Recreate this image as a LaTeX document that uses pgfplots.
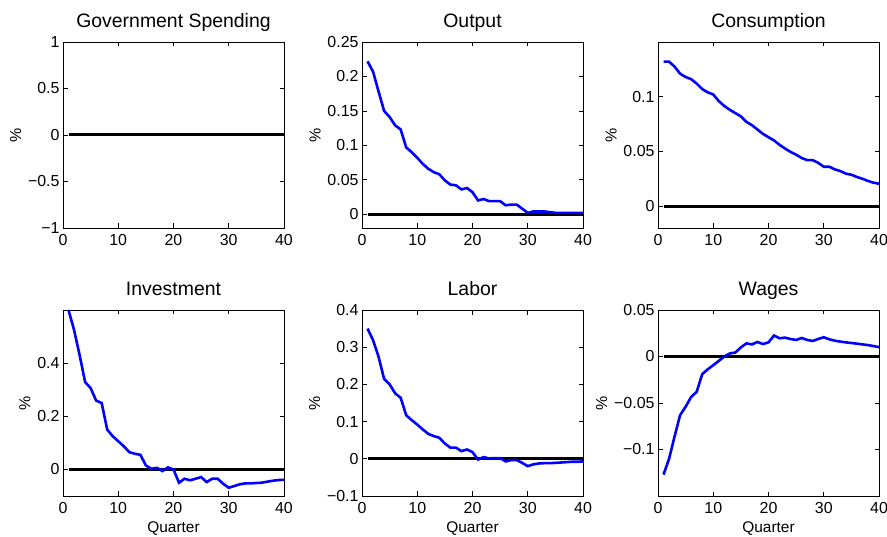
\documentclass[border=0pt]{standalone}
\usepackage{pgfplots}
\usepackage{pgfplotstable}
\pgfplotsset{compat=1.18}
\usepackage{fontspec}
\setmainfont{Liberation Sans}

\pgfplotstableread{
q gov out con inv lab wag
1 0 0.222 0.132 0.600 0.350 -0.127
2 0 0.207 0.132 0.525 0.319 -0.110
3 0 0.178 0.1275 0.431 0.274 -0.086
4 0 0.150 0.121 0.329 0.215 -0.063
5 0 0.141 0.118 0.306 0.200 -0.054
6 0 0.129 0.116 0.259 0.176 -0.0435
7 0 0.123 0.112 0.250 0.164 -0.038
8 0 0.097 0.107 0.150 0.117 -0.019
9 0 0.090 0.104 0.125 0.104 -0.0138
10 0 0.082 0.102 0.106 0.092 -0.0094
11 0 0.073 0.096 0.0875 0.079 -0.0047
12 0 0.066 0.0915 0.065 0.067 0.0
13 0 0.061 0.088 0.059 0.061 0.0033
14 0 0.058 0.085 0.055 0.0565 0.0043
15 0 0.049 0.082 0.015 0.041 0.0098
16 0 0.043 0.077 0.0025 0.030 0.0141
17 0 0.042 0.074 0.006 0.030 0.013
18 0 0.036 0.070 -0.006 0.0206 0.0156
19 0 0.038 0.066 0.0075 0.025 0.0134
20 0 0.032 0.063 0.0 0.018 0.0152
21 0 0.020 0.060 -0.050 -0.002 0.0225
22 0 0.022 0.056 -0.035 0.0045 0.0196
23 0 0.019 0.0526 -0.041 0.001 0.0203
24 0 0.019 0.0495 -0.035 0.002 0.0188
25 0 0.019 0.047 -0.029 0.002 0.0178
26 0 0.013 0.044 -0.0475 -0.007 0.0199
27 0 0.014 0.042 -0.035 -0.0036 0.0178
28 0 0.014 0.042 -0.035 -0.0036 0.0167
29 0 0.008 0.0395 -0.054 -0.011 0.0188
30 0 0.002 0.036 -0.069 -0.0197 0.0207
31 0 0.004 0.036 -0.0625 -0.015 0.0185
32 0 0.004 0.0336 -0.056 -0.0126 0.017
33 0 0.004 0.032 -0.0525 -0.0117 0.016
34 0 0.003 0.0297 -0.0525 -0.0117 0.0152
35 0 0.002 0.0287 -0.051 -0.011 0.0145
36 0 0.002 0.0266 -0.050 -0.010 0.0138
37 0 0.002 0.025 -0.046 -0.009 0.013
38 0 0.002 0.023 -0.0425 -0.008 0.0123
39 0 0.002 0.0214 -0.040 -0.008 0.0112
40 0 0.002 0.0205 -0.039 -0.007 0.0101
}\irf

\definecolor{mblue}{RGB}{0,0,255}

\pgfplotsset{
  irf/.style={
    scale only axis, width=221bp, height=186bp, anchor=south west,
    xmin=0, xmax=40, xtick={0,10,20,30,40}, xticklabels={0,10,20,30,40},
    tick align=inside, major tick length=4.5bp,
    axis line style={line width=0.9bp},
    every tick/.style={black, line width=0.7bp},
    ticklabel style={font=\fontsize{16}{16}\selectfont},
    xticklabel style={yshift=-3bp},
    title style={font=\fontsize{19.5}{19.5}\selectfont,
      at={(axis description cs:0.5,1)}, anchor=base, yshift=9bp},
    ylabel={\%}, ylabel style={font=\fontsize{16}{16}\selectfont},
    xlabel style={font=\fontsize{15.5}{15.5}\selectfont,
      at={(axis description cs:0.5,0)}, anchor=base, yshift=-36bp},
  },
  zeroline/.style={black, line width=3bp},
  resp/.style={mblue, line width=2.6bp},
}

\begin{document}
\begin{tikzpicture}
\useasboundingbox (0,0) rectangle (887bp,537bp);
% Government Spending
\begin{axis}[irf, at={(63bp,309bp)}, title={Government Spending},
  ymin=-1, ymax=1, ytick={-1,-0.5,0,0.5,1},
  yticklabels={−1,−0.5,0,0.5,1}]
\addplot[resp] table[x=q,y=gov]{\irf};
\addplot[zeroline] coordinates {(1,0) (40,0)};
\end{axis}
% Output
\begin{axis}[irf, at={(362bp,309bp)}, title={Output},
  ymin=-0.02, ymax=0.25, ytick={0,0.05,0.1,0.15,0.2,0.25},
  yticklabels={0,0.05,0.1,0.15,0.2,0.25}]
\addplot[zeroline] coordinates {(1,0) (40,0)};
\addplot[resp] table[x=q,y=out]{\irf};
\end{axis}
% Consumption
\begin{axis}[irf, at={(658bp,309bp)}, title={Consumption},
  ymin=-0.02, ymax=0.15, ytick={0,0.05,0.1},
  yticklabels={0,0.05,0.1}]
\addplot[zeroline] coordinates {(1,0) (40,0)};
\addplot[resp] table[x=q,y=con]{\irf};
\end{axis}
% Investment
\begin{axis}[irf, at={(63bp,41bp)}, title={Investment}, xlabel={Quarter},
  ymin=-0.1, ymax=0.6, ytick={0,0.2,0.4},
  yticklabels={0,0.2,0.4}]
\addplot[zeroline] coordinates {(1,0) (40,0)};
\addplot[resp] table[x=q,y=inv]{\irf};
\end{axis}
% Labor
\begin{axis}[irf, at={(362bp,41bp)}, title={Labor}, xlabel={Quarter},
  ymin=-0.1, ymax=0.4, ytick={-0.1,0,0.1,0.2,0.3,0.4},
  yticklabels={−0.1,0,0.1,0.2,0.3,0.4}]
\addplot[zeroline] coordinates {(1,0) (40,0)};
\addplot[resp] table[x=q,y=lab]{\irf};
\end{axis}
% Wages
\begin{axis}[irf, at={(658bp,41bp)}, title={Wages}, xlabel={Quarter},
  ymin=-0.15, ymax=0.05, ytick={-0.1,-0.05,0,0.05},
  yticklabels={−0.1,−0.05,0,0.05}]
\addplot[zeroline] coordinates {(1,0) (40,0)};
\addplot[resp] table[x=q,y=wag]{\irf};
\end{axis}
\end{tikzpicture}
\end{document}
